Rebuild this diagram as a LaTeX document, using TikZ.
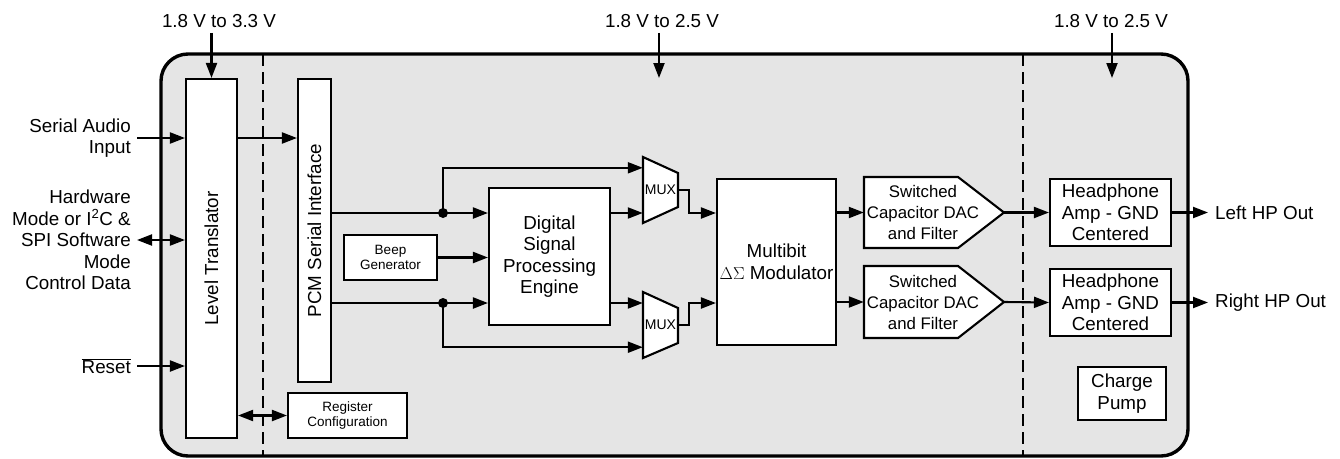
\documentclass[tikz,border=0pt]{standalone}
\usepackage{fontspec}
\setmainfont{Liberation Sans}
\usepackage{graphicx}
\usetikzlibrary{arrows.meta}
\definecolor{chipgray}{RGB}{229,229,229}
\tikzset{
	chip/.style={draw, fill=chipgray, line width=3.4pt, rounded corners=27pt},
	divider/.style={line width=2.8pt, dash pattern=on 12pt off 6pt},
	blk/.style={draw, fill=white, line width=2.1pt, inner sep=0pt, align=center, font=\fontsize{18.8}{21.5}\selectfont},
	smallblk/.style={blk, font=\fontsize{13.5}{15.5}\selectfont},
	outline/.style={draw, fill=white, line width=2.1pt, line join=miter},
	muxbody/.style={inner sep=0pt, minimum width=35pt, minimum height=66pt, font=\fontsize{14}{16}\selectfont},
	dacbody/.style={inner sep=0pt, minimum width=94pt, minimum height=71pt},
	daclabel/.style={xshift=12pt, inner sep=0pt, align=center, font=\fontsize{16.8}{21}\selectfont},
	supply/.style={inner sep=5pt, font=\fontsize{18.8}{21.5}\selectfont},
	inlabel/.style={anchor=east, inner xsep=6pt, inner ysep=0pt, align=right, font=\fontsize{18.8}{21.5}\selectfont},
	outlabel/.style={anchor=west, inner xsep=7pt, inner ysep=0pt, font=\fontsize{18.8}{21.5}\selectfont},
	wire/.style={line width=2.1pt},
	sig/.style={wire, -{Triangle[length=15pt,width=11pt]}},
	bisig/.style={wire, {Triangle[length=15pt,width=11pt]}-{Triangle[length=15pt,width=11pt]}}
}

\begin{document}
\begin{tikzpicture}[x=1pt,y=-1pt]
			%%%%% START %%%%%
			\useasboundingbox (0,0) rectangle (1340,458);
			
			\draw[chip] (161,54) rectangle (1188,456);
			\draw[divider] (263,54) -- (263,456);
			\draw[divider] (1023,54) -- (1023,456);
			
			% mux and dac outlines
			\draw[outline] (643,157) -- (678,173) -- (678,207) -- (643,223) -- cycle;
			\draw[outline] (643,292) -- (678,308) -- (678,343) -- (643,358) -- cycle;
			\draw[outline] (864,177) -- (958,177) -- (1004,212.5) -- (958,248) -- (864,248) -- cycle;
			\draw[outline] (864,266) -- (958,266) -- (1004,302) -- (958,338) -- (864,338) -- cycle;
			
			\node[blk, minimum width=51pt, minimum height=359pt] (lt) at (211.5,258.5) {\rotatebox{90}{Level Translator}};
			\node[blk, minimum width=33pt, minimum height=303pt] (pcm) at (314.5,230.5) {\rotatebox{90}{PCM Serial Interface}};
			\node[smallblk, minimum width=93pt, minimum height=45pt] (beep) at (390.5,257.5) {Beep\\Generator};
			\node[smallblk, minimum width=119pt, minimum height=45pt] (reg) at (347.5,415.5) {Register\\Configuration};
			\node[blk, minimum width=121pt, minimum height=137pt] (dsp) at (549.5,256.5) {Digital\\Signal\\Processing\\Engine};
			\node[muxbody] (mux1) at (660.5,190) {MUX};
			\node[muxbody] (mux2) at (660.5,325) {MUX};
			\node[blk, minimum width=119pt, minimum height=166pt] (mod) at (776.5,262) {Multibit\\$\Delta\Sigma$ Modulator};
			\node[dacbody, label={[daclabel]center:Switched\\Capacitor DAC\\and Filter}] (dac1) at (911,212.5) {};
			\node[dacbody, minimum height=72pt, label={[daclabel]center:Switched\\Capacitor DAC\\and Filter}] (dac2) at (911,302) {};
			\node[blk, minimum width=121pt, minimum height=67pt] (hp1) at (1110.5,212.5) {Headphone\\Amp - GND\\Centered};
			\node[blk, minimum width=121pt, minimum height=67pt] (hp2) at (1110.5,302.5) {Headphone\\Amp - GND\\Centered};
			\node[blk, minimum width=88pt, minimum height=53pt] (cp) at (1122,393.5) {Charge\\Pump};
			
			% supplies
			\node[supply] (v1) at (219,21) {1.8 V to 3.3 V};
			\node[supply] (v2) at (662,21) {1.8 V to 2.5 V};
			\node[supply] (v3) at (1111,21) {1.8 V to 2.5 V};
			\coordinate (p2) at (659,78);
			\coordinate (p3) at (1112,78);
			\draw[sig] (v1.south -| lt.north) -- (lt.north);
			\draw[sig] (v2.south -| p2) -- (p2);
			\draw[sig] (v3.south -| p3) -- (p3);
			
			% pins
			\node[inlabel] (sai) at (137,138) {Serial Audio\\Input};
			\node[inlabel] (hw) at (137,240) {Hardware\\Mode or I\textsuperscript{2}C \&\\SPI Software\\Mode\\Control Data};
			\node[inlabel] (rst) at (137,366) {$\overline{\mbox{Reset}}$};
			\node[outlabel] (lhp) at (1208,212.5) {Left HP Out};
			\node[outlabel] (rhp) at (1208,302.5) {Right HP Out};
			
			\draw[sig] (sai.east) -- (lt.west |- sai.east);
			\draw[bisig] (hw.east) -- (lt.west |- hw.east);
			\draw[sig] (rst.east) -- (lt.west |- rst.east);
			\draw[sig] (lt.east |- sai.east) -- (pcm.west |- sai.east);
			\draw[bisig] (lt.east |- reg.west) -- (reg.west);
			
			% serial interface to dsp and mux
			\coordinate (j1) at (443,213);
			\coordinate (j2) at (443,303);
			\draw[wire] (pcm.east |- j1) -- (j1);
			\draw[wire] (pcm.east |- j2) -- (j2);
			\fill (j1) circle (5pt);
			\fill (j2) circle (5pt);
			\draw[sig] (j1) -- (dsp.west |- j1);
			\draw[sig] (j2) -- (dsp.west |- j2);
			\draw[sig] (j1) |- ([yshift=-11pt]mux1.north west);
			\draw[sig] (j2) |- ([yshift=11pt]mux2.south west);
			\draw[sig] (beep.east) -- (dsp.west |- beep.east);
			\draw[sig] (dsp.east |- j1) -- (mux1.west |- j1);
			\draw[sig] (dsp.east |- j2) -- (mux2.west |- j2);
			
			\draw[sig] (mux1.east) -- ++(11,0) |- (mod.west |- j1);
			\draw[sig] (mux2.east) -- ++(11,0) |- (mod.west |- j2);
			\draw[sig] (mod.east |- dac1) -- (dac1.west);
			\draw[sig] (mod.east |- dac2) -- (dac2.west);
			\draw[sig] ([xshift=46pt]dac1.east) -- (hp1.west);
			\draw[sig] ([xshift=46pt]dac2.east) -- (hp2.west);
			\draw[sig] (hp1.east) -- (lhp.west);
			\draw[sig] (hp2.east) -- (rhp.west);
			
			%%%%% END %%%%%
\end{tikzpicture}
\end{document}
